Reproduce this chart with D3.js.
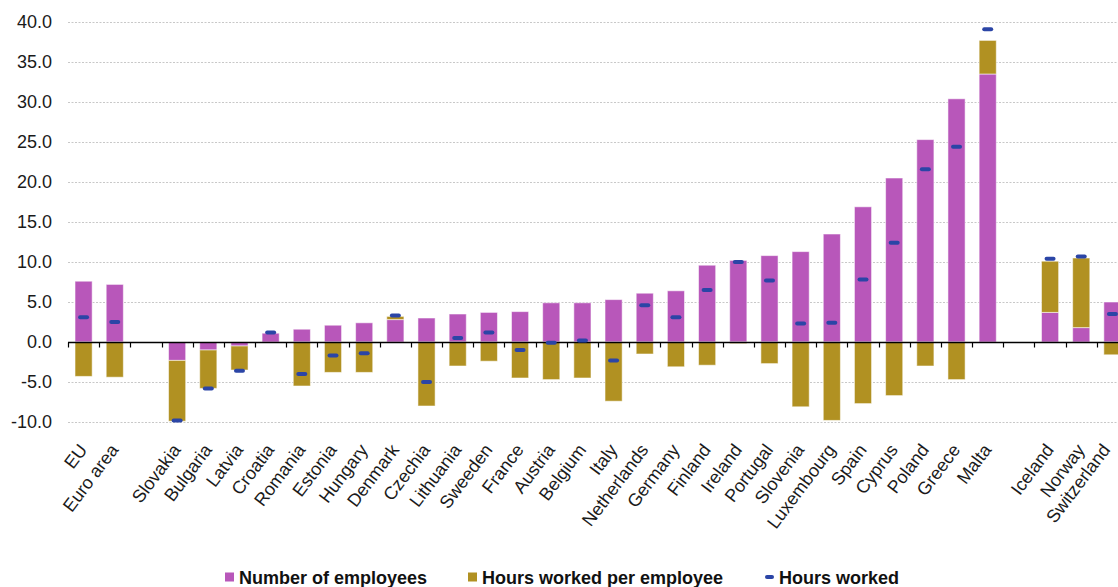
<!DOCTYPE html>
<html>
<head>
<meta charset="utf-8">
<script src="https://cdn.jsdelivr.net/npm/d3@7/dist/d3.min.js"></script>
<style>
  html, body { margin: 0; padding: 0; background: #fff; }
  svg { display: block; font-family: "Liberation Sans", Arial, sans-serif; }
</style>
</head>
<body>
<svg id="chart" width="1118" height="587"></svg>
<script>
// Change in hours worked, decomposed into employees and hours per employee (%)
// Empty strings mark spacer slots between country groups.
const categories = ["EU", "Euro area", "", "Slovakia", "Bulgaria", "Latvia", "Croatia", "Romania",
  "Estonia", "Hungary", "Denmark", "Czechia", "Lithuania", "Sweeden", "France", "Austria", "Belgium",
  "Italy", "Netherlands", "Germany", "Finland", "Ireland", "Portugal", "Slovenia", "Luxembourg",
  "Spain", "Cyprus", "Poland", "Greece", "Malta", "", "Iceland", "Norway", "Switzerland"];

const employees = [7.6, 7.2, null, -2.3, -1.0, -0.5, 1.1, 1.6, 2.1, 2.4, 2.8, 3.0, 3.5, 3.7, 3.8,
  4.9, 4.9, 5.3, 6.1, 6.4, 9.6, 10.2, 10.8, 11.3, 13.5, 16.9, 20.5, 25.3, 30.4, 33.5, null, 3.7, 1.8, 5.0];

const hoursPerEmployee = [-4.3, -4.4, null, -7.6, -4.8, -3.0, 0.0, -5.5, -3.8, -3.8, 0.4, -8.0, -3.0,
  -2.4, -4.5, -4.7, -4.5, -7.4, -1.5, -3.1, -2.9, -0.2, -2.7, -8.1, -9.8, -7.7, -6.7, -3.0, -4.7, 4.2,
  null, 6.4, 8.7, -1.6];

const hoursWorked = [3.1, 2.5, null, -9.8, -5.8, -3.6, 1.2, -4.0, -1.7, -1.4, 3.3, -5.0, 0.5, 1.2,
  -1.0, -0.1, 0.2, -2.3, 4.6, 3.1, 6.5, 10.0, 7.7, 2.3, 2.4, 7.8, 12.4, 21.6, 24.4, 39.1, null, 10.4,
  10.7, 3.5];

const yTicks = [-10, -5, 0, 5, 10, 15, 20, 25, 30, 35, 40];

const seriesNames = ["Number of employees", "Hours worked per employee", "Hours worked"];
const colors = { emp: "#b857ba", hpe: "#b19122", hw: "#2b45a6" };

const svg = d3.select("#chart");
const width = 1118;
const plotLeft = 68, plotRight = 1128, plotTop = 22, plotBottom = 422;

const rows = categories.map((c, i) => ({
  idx: i, name: c,
  emp: employees[i] ?? 0,
  hpe: hoursPerEmployee[i] ?? 0,
  hw: hoursWorked[i]
}));

const x = d3.scaleBand()
  .domain(rows.map(d => d.idx))
  .range([plotLeft, plotRight])
  .paddingInner(0.45)
  .paddingOuter(0.225);

const y = d3.scaleLinear().domain([-10, 40]).range([plotBottom, plotTop]);

// gridlines
svg.append("g")
  .selectAll("line")
  .data(yTicks)
  .join("line")
  .attr("x1", plotLeft).attr("x2", plotRight)
  .attr("y1", d => Math.round(y(d)) + 0.5).attr("y2", d => Math.round(y(d)) + 0.5)
  .attr("stroke", "#c8c8c8")
  .attr("stroke-width", 1)
  .attr("stroke-dasharray", "2,1.5");

// y axis labels (plain hyphen for negatives)
const yAxis = d3.axisLeft(y).tickValues(yTicks).tickFormat(d => d.toFixed(1)).tickSize(0).tickPadding(16);
const gy = svg.append("g").attr("transform", `translate(${plotLeft},0)`).call(yAxis);
gy.select(".domain").remove();
gy.selectAll("text")
  .attr("font-size", 18)
  .attr("font-family", "'Liberation Sans', Arial, sans-serif")
  .attr("fill", "#1a1a1a");

// stacked bars (diverging)
const stack = d3.stack().keys(["emp", "hpe"]).offset(d3.stackOffsetDiverging);
const stacked = stack(rows.filter(d => d.name !== ""));

svg.append("g")
  .selectAll("g")
  .data(stacked)
  .join("g")
  .attr("fill", s => colors[s.key])
  .selectAll("rect")
  .data(s => s)
  .join("rect")
  .attr("x", d => x(d.data.idx))
  .attr("width", x.bandwidth())
  .attr("y", d => y(Math.max(d[0], d[1])))
  .attr("height", d => Math.abs(y(d[0]) - y(d[1])))
  .attr("stroke", "rgba(255,255,255,0.55)")
  .attr("stroke-width", 1);

// zero axis line and category ticks
const zeroY = Math.round(y(0)) + 0.5;
svg.append("line")
  .attr("x1", plotLeft).attr("x2", plotRight)
  .attr("y1", zeroY).attr("y2", zeroY)
  .attr("stroke", "#000").attr("stroke-width", 1.6);

const boundaries = d3.range(categories.length + 1).map(i => plotLeft + i * x.step());
svg.append("g")
  .selectAll("line")
  .data(boundaries)
  .join("line")
  .attr("x1", d => Math.round(d) + 0.5).attr("x2", d => Math.round(d) + 0.5)
  .attr("y1", zeroY).attr("y2", zeroY + 5)
  .attr("stroke", "#000").attr("stroke-width", 1.2);

// hours worked markers
svg.append("g")
  .selectAll("rect")
  .data(rows.filter(d => d.hw !== null))
  .join("rect")
  .attr("x", d => x(d.idx) + x.bandwidth() / 2 - 5.5)
  .attr("y", d => y(d.hw) - 2)
  .attr("width", 11)
  .attr("height", 4)
  .attr("rx", 2)
  .attr("fill", colors.hw);

// category labels (kept inside the right edge of the canvas)
svg.append("g")
  .selectAll("text")
  .data(rows.filter(d => d.name !== ""))
  .join("text")
  .attr("transform", d => `translate(${Math.min(x(d.idx) + x.bandwidth() / 2 + 4.5, width - 7)},${450}) rotate(-53)`)
  .attr("text-anchor", "end")
  .attr("font-size", 18)
  .attr("fill", "#1a1a1a")
  .text(d => d.name);

// legend
const legend = svg.append("g").attr("font-size", 18).attr("font-weight", "bold").attr("fill", "#111");
const legendItems = [
  { name: seriesNames[0], color: colors.emp, x: 225, type: "box" },
  { name: seriesNames[1], color: colors.hpe, x: 468, type: "box" },
  { name: seriesNames[2], color: colors.hw, x: 765, type: "dash" }
];
legendItems.forEach(it => {
  if (it.type === "box") {
    legend.append("rect").attr("x", it.x).attr("y", 572.5).attr("width", 9).attr("height", 9).attr("fill", it.color);
  } else {
    legend.append("rect").attr("x", it.x).attr("y", 575).attr("width", 9).attr("height", 4).attr("rx", 2).attr("fill", it.color);
  }
  legend.append("text").attr("x", it.x + 14).attr("y", 583.5).text(it.name);
});
</script>
</body>
</html>
